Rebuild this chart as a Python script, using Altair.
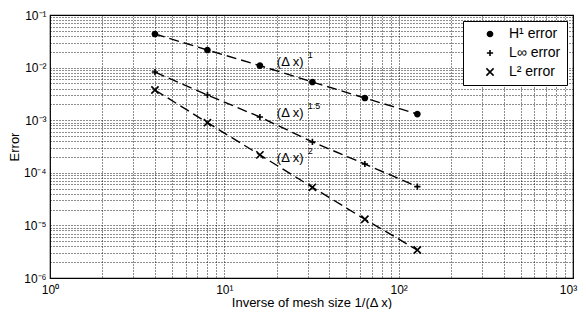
import altair as alt
import pandas as pd

# ---- data ----
mesh = [4, 8, 16, 32, 64, 128]
h1_err = [0.0435, 0.0216, 0.0109, 0.00532, 0.00264, 0.00131]
linf_err = [0.00824, 0.00301, 0.00115, 0.000386, 0.000147, 0.0000545]
l2_err = [0.00375, 0.000897, 0.000219, 0.000053, 0.0000131, 0.0000034]
series_names = ["H¹ error", "L∞ error", "L² error"]

ann_x = [20, 20, 20]
ann_y = [0.0127, 0.00137, 0.000195]
ann_base = ["(Δ x)", "(Δ x)", "(Δ x)"]
ann_exp = ["1", "1.5", "2"]

x_major = [1, 10, 100, 1000]
x_major_labels = ["10⁰", "10¹", "10²", "10³"]
y_major = [1e-6, 1e-5, 1e-4, 1e-3, 1e-2, 1e-1]
y_major_labels = ["10⁻⁶", "10⁻⁵", "10⁻⁴", "10⁻³", "10⁻²", "10⁻¹"]

x_ticks = [float(f"{d}e{k}") for k in range(0, 3) for d in range(1, 10)] + [1000.0]
y_ticks = [float(f"{d}e{k}") for k in range(-6, -1) for d in range(1, 10)] + [0.1]

rows = []
for name, vals in zip(series_names, [h1_err, linf_err, l2_err]):
    for m, v in zip(mesh, vals):
        rows.append({"mesh": m, "err": v, "series": name})
df = pd.DataFrame(rows)
ann = pd.DataFrame({"x": ann_x, "y": ann_y, "base": ann_base, "exp": ann_exp})


def label_expr(vals, labels):
    expr = "''"
    for v, l in reversed(list(zip(vals, labels))):
        expr = f"abs(datum.value - {v!r}) < {v!r}*1e-6 ? '{l}' : ({expr})"
    return expr


FONT = "Liberation Sans"

xscale = alt.Scale(type="log", domain=[1, 1000], nice=False)
yscale = alt.Scale(type="log", domain=[1e-6, 0.1], nice=False)

xaxis = alt.Axis(values=x_ticks, labelExpr=label_expr(x_major, x_major_labels),
                 title="Inverse of mesh size 1/(Δ x)", grid=True, ticks=False,
                 labelFlush=False, labelOverlap=False, labelPadding=6,
                 labelOffset={"condition": {"test": "datum.value >= 999", "value": -5},
                              "value": 0},
                 titlePadding=1)
yaxis = alt.Axis(values=y_ticks, labelExpr=label_expr(y_major, y_major_labels),
                 title="Error", grid=True, ticks=False, labelOverlap=False,
                 labelPadding=4, titlePadding=2)

shape_range = ["circle", "M-1,0L1,0M0,-1L0,1", "M-1,-1L1,1M-1,1L1,-1"]
leg = alt.Legend(title=None)

base = alt.Chart(df)
lines = base.mark_line(color="black", strokeDash=[10, 5], strokeWidth=1.4).encode(
    x=alt.X("mesh:Q", scale=xscale, axis=xaxis),
    y=alt.Y("err:Q", scale=yscale, axis=yaxis),
    detail="series:N",
)
points = base.mark_point(strokeWidth=1.6, opacity=1).encode(
    x=alt.X("mesh:Q", scale=xscale),
    y=alt.Y("err:Q", scale=yscale),
    shape=alt.Shape("series:N", scale=alt.Scale(domain=series_names, range=shape_range),
                    legend=leg),
    fill=alt.Fill("series:N", scale=alt.Scale(domain=series_names,
                                              range=["black", "transparent", "transparent"]),
                  legend=leg),
    stroke=alt.Stroke("series:N", scale=alt.Scale(domain=series_names,
                                                  range=["black", "black", "black"]),
                      legend=leg),
    size=alt.Size("series:N", scale=alt.Scale(domain=series_names, range=[26, 52, 28]),
                  legend=leg),
)
txt = alt.Chart(ann).mark_text(align="left", baseline="middle", fontSize=13,
                               font=FONT, color="black").encode(
    x=alt.X("x:Q", scale=xscale), y=alt.Y("y:Q", scale=yscale), text="base:N")
sup = alt.Chart(ann).mark_text(align="left", baseline="middle", fontSize=9,
                               font=FONT, color="black", dx=31, dy=-7).encode(
    x=alt.X("x:Q", scale=xscale), y=alt.Y("y:Q", scale=yscale), text="exp:N")

chart = alt.layer(lines, points, txt, sup).properties(
    width=523, height=263,
    autosize=alt.AutoSizeParams(type="none"),
    padding={"left": 42, "top": 7, "right": 5, "bottom": 31},
).configure_view(stroke="black", strokeWidth=1.2).configure_axis(
    gridColor="black", gridDash=[1, 2], gridOpacity=1, gridWidth=0.9,
    domain=False, labelFont=FONT, titleFont=FONT, labelFontSize=12,
    titleFontSize=13, titleFontWeight="normal", labelColor="black", titleColor="black",
).configure_legend(
    orient="top-right", offset=6, strokeColor="black", fillColor="white",
    padding=6, labelFont=FONT, labelFontSize=14, labelColor="black",
    symbolStrokeWidth=1.6, symbolOffset=14,
    rowPadding=5, symbolOpacity=1, labelOffset=12,
)

chart.save("out.html", embed_options={"renderer": "svg", "actions": False})
